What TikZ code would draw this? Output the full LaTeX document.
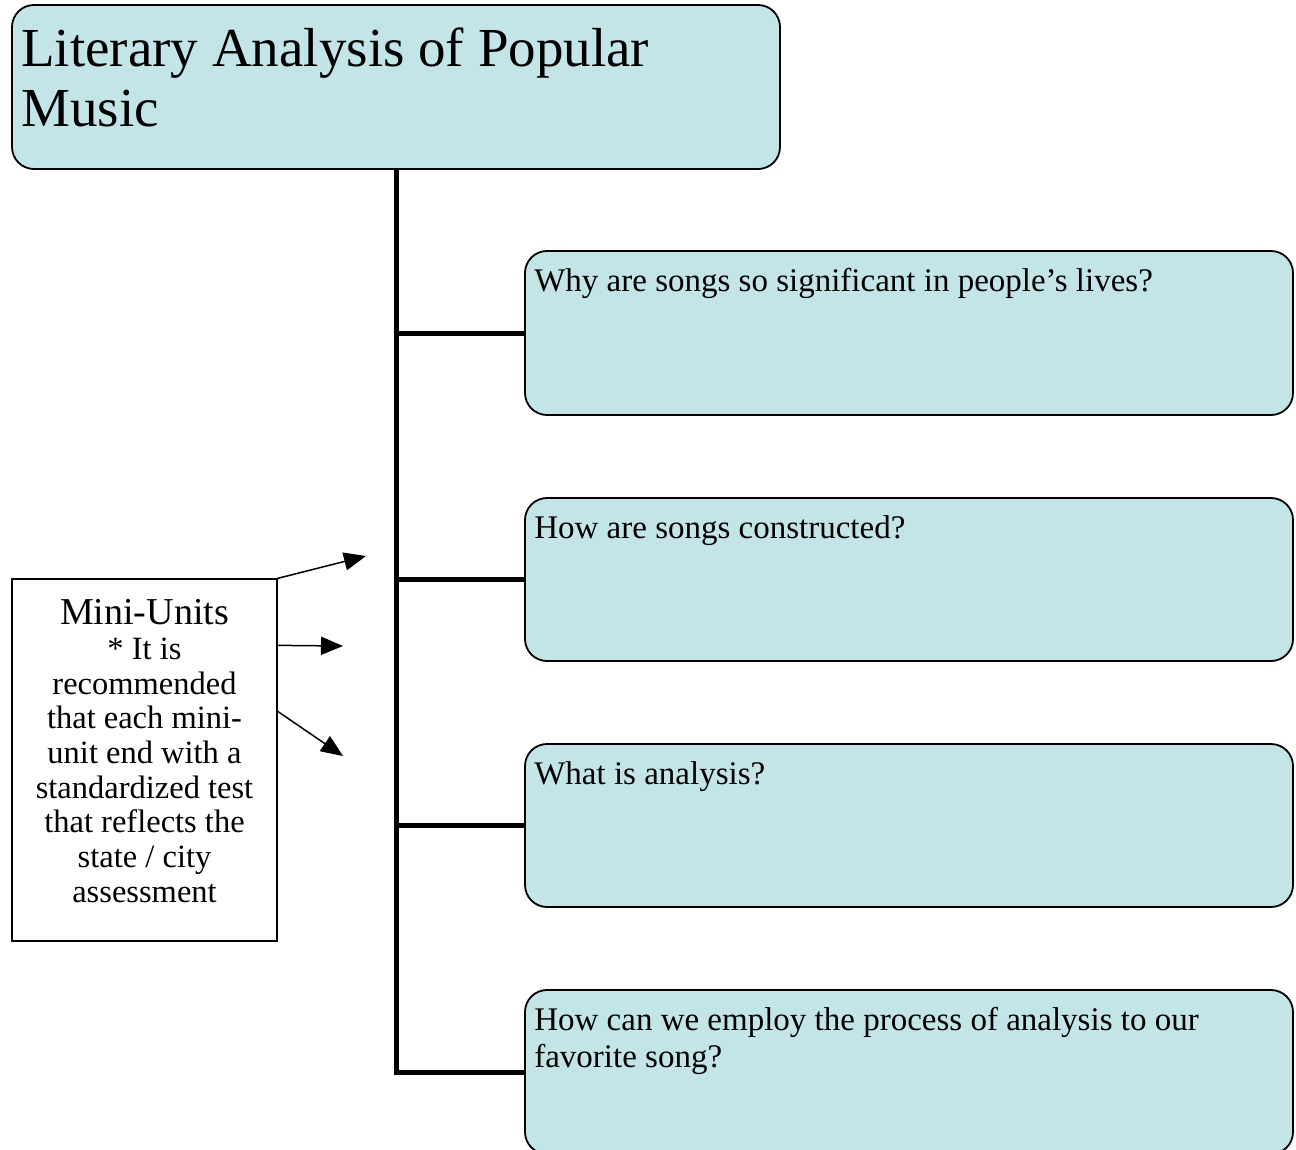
\documentclass[tikz,border=0pt]{standalone}
\usepackage{fontspec}
\setmainfont{Liberation Serif}
\usetikzlibrary{arrows.meta}
\definecolor{boxfill}{RGB}{196,229,232}
\begin{document}
\begin{tikzpicture}[x=1pt, y=-1pt,
    topic/.style={draw, line width=1.8pt, rounded corners=22pt, fill=boxfill,
        minimum width=768pt, inner sep=0pt},
    qtext/.style={anchor=north west, align=left, inner sep=0pt,
        font=\fontsize{33}{37}\selectfont},
    trunk/.style={line width=5pt},
    pointer/.style={line width=1.5pt, -{Triangle[length=22pt,width=18pt]}}]
    \useasboundingbox (0, 0) rectangle (1296, 1149);
    %\draw[lightgray] (0, 0) grid[step=100] (1296, 1149);

    \node[topic, minimum height=164pt,
        label={[anchor=north west, align=left, inner sep=0pt,
            font=\fontsize{55}{60}\selectfont, xshift=10pt, yshift=-23pt]north west:Literary Analysis of Popular\\Music}]
        (title) at (396, 87) {};

    \node[topic, minimum height=164pt,
        label={[qtext, xshift=10pt, yshift=-18pt]north west:Why are songs so significant in people’s lives?}]
        (q1) at (909, 333) {};
    \node[topic, minimum height=163pt,
        label={[qtext, xshift=10pt, yshift=-18pt]north west:How are songs constructed?}]
        (q2) at (909, 579.5) {};
    \node[topic, minimum height=163pt,
        label={[qtext, xshift=10pt, yshift=-18pt]north west:What is analysis?}]
        (q3) at (909, 825.5) {};
    \node[topic, minimum height=164pt,
        label={[qtext, xshift=10pt, yshift=-18pt]north west:How can we employ the process of analysis to our\\favorite song?}]
        (q4) at (909, 1072) {};

    \draw[trunk] (title.south) -- (title.south |- q4.west) -- (q4.west);
    \draw[trunk] (title.south |- q1.west) -- (q1.west);
    \draw[trunk] (title.south |- q2.west) -- (q2.west);
    \draw[trunk] (title.south |- q3.west) -- (q3.west);

    \node[draw, line width=1.3pt, minimum width=265pt, minimum height=362pt,
        inner sep=0pt, fill=white,
        label={[anchor=north, align=center, inner sep=0pt, yshift=-21pt,
            font=\fontsize{32.5}{34.7}\selectfont]north:{\fontsize{38}{34.7}\selectfont Mini-Units}\\* It is\\recommended\\that each mini-\\unit end with a\\standardized test\\that reflects the\\state / city\\assessment}]
        (mini) at (144.5, 760) {};

    \coordinate (p1) at (366, 556);
    \coordinate (p2) at (343, 646);
    \coordinate (p3) at (343, 756);
    \draw[pointer] (mini.north east) -- (p1);
    \draw[pointer] ([yshift=-67pt]mini.north east) -- (p2);
    \draw[pointer] ([yshift=-133pt]mini.north east) -- (p3);
\end{tikzpicture}
\end{document}
